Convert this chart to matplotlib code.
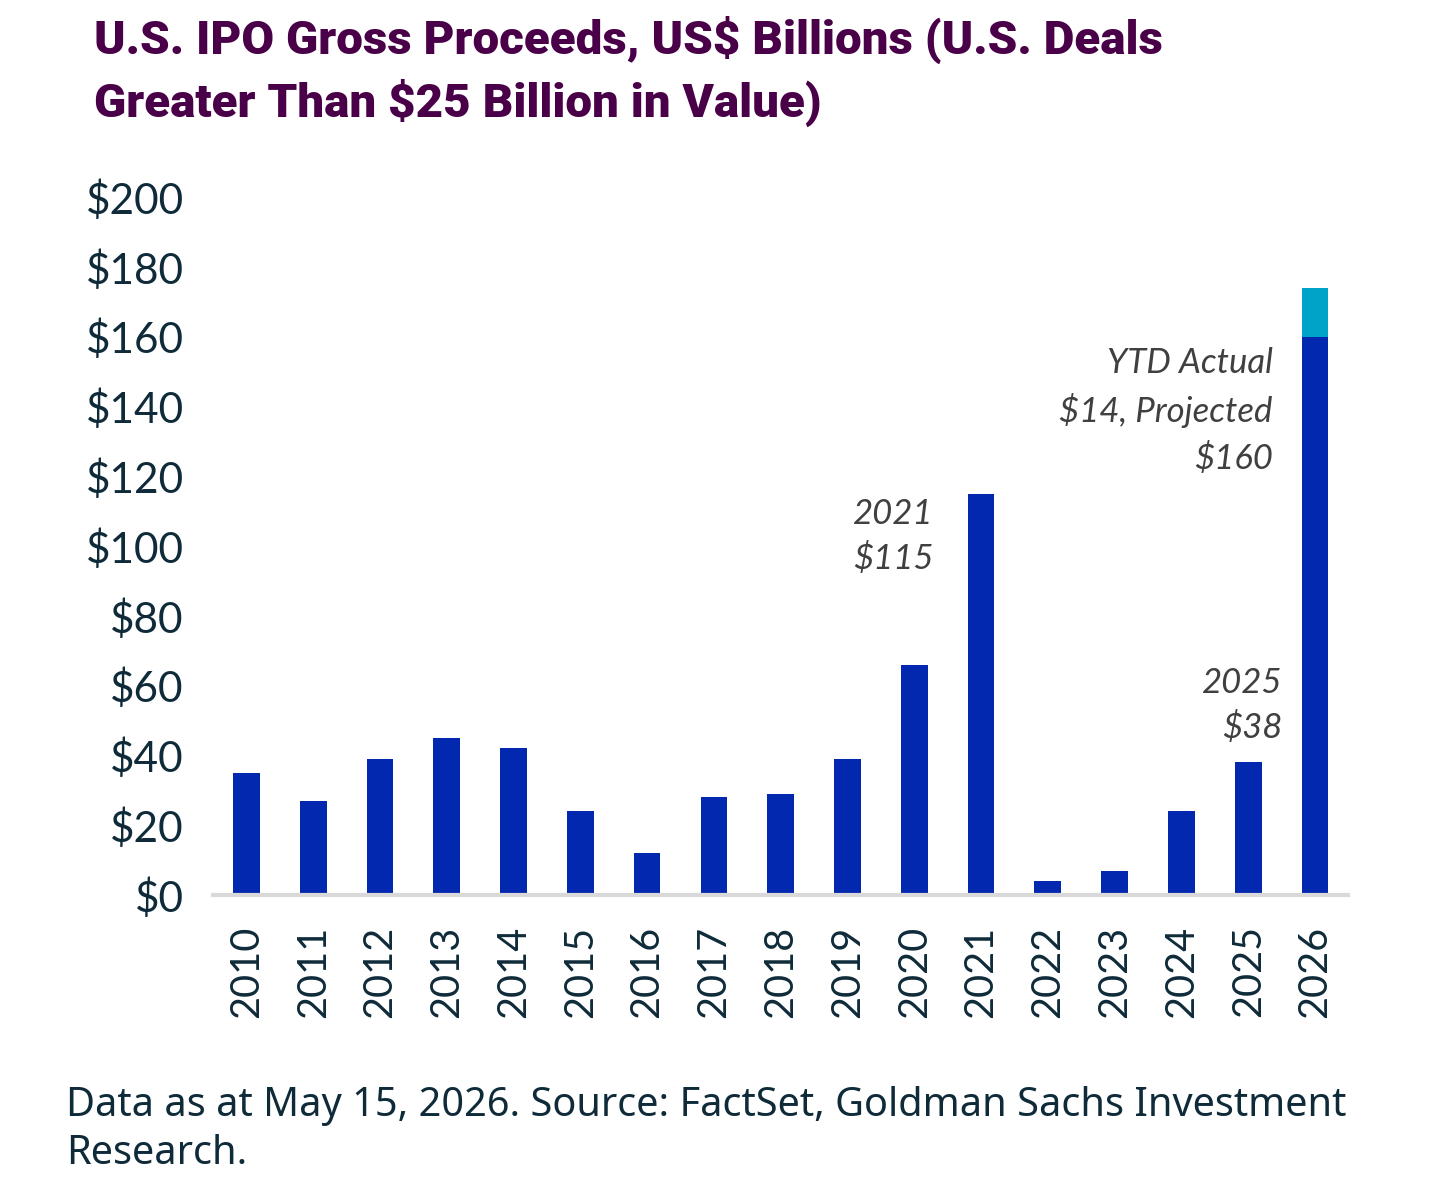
import numpy as np
import matplotlib
matplotlib.use("Agg")
import matplotlib.pyplot as plt

years = [str(y) for y in range(2010, 2027)]
proceeds = [35, 27, 39, 45, 42, 24, 12, 28, 29, 39, 66, 115, 4, 7, 24, 38, 160]
# extra YTD actual on top of the 2026 projection
ytd_extra = [0] * 16 + [14]

y_ticks = list(range(0, 201, 20))
y_tick_labels = ["$" + str(v) for v in y_ticks]

title = "U.S. IPO Gross Proceeds, US$ Billions (U.S. Deals\nGreater Than $25 Billion in Value)"
footer = ("Data as at May 15, 2026. Source: FactSet, Goldman Sachs Investment\n"
          "Research.")

dark_blue = "#0328B0"
light_blue = "#00A3C8"
text_dark = "#0F2B3A"
note_grey = "#404040"
purple = "#4A0049"

plt.rcParams['font.family'] = ['Lato', 'DejaVu Sans']

fig = plt.figure(figsize=(14.39, 11.83), dpi=100)
ax = fig.add_axes([0.148, 0.2435, 0.789, 0.59])

x = np.arange(len(years))
ax.bar(x, proceeds, width=0.4, color=dark_blue, zorder=2)
ax.bar(x, ytd_extra, width=0.4, bottom=proceeds, color=light_blue, zorder=2)

ax.set_xlim(-0.5, len(years) - 0.5)
ax.set_ylim(0, 200)
ax.set_yticks(y_ticks)
ax.set_yticklabels(y_tick_labels, fontsize=30.5, color=text_dark)
ax.set_xticks(x)
ax.set_xticklabels(years, rotation=90, fontsize=28.5, color=text_dark)
ax.tick_params(axis='both', length=0)
ax.tick_params(axis='y', pad=21)
ax.tick_params(axis='x', pad=22)

for s in ['top', 'right', 'left']:
    ax.spines[s].set_visible(False)
ax.spines['bottom'].set_color('#d9d9d9')
ax.spines['bottom'].set_linewidth(3)

# annotations
ax.text(9.09, 102.6, "2021\n$115", fontsize=25, style='italic', color=note_grey,
        ha='left', va='center', linespacing=1.45)
ax.text(15.52, 54.4, "2025\n$38", fontsize=25, style='italic', color=note_grey,
        ha='right', va='center', linespacing=1.45, multialignment='right')
ax.text(15.37, 138.7, "YTD Actual\n$14, Projected\n$160", fontsize=25, style='italic',
        color=note_grey, ha='right', va='center', linespacing=1.5,
        multialignment='right')

fig.text(0.065, 0.987, title, fontsize=34.2, fontweight='black', color=purple,
         ha='left', va='top', family=['Roboto', 'DejaVu Sans'], linespacing=1.39)
fig.text(0.046, 0.008, footer, fontsize=28.6, color=text_dark, ha='left', va='bottom',
         linespacing=1.25, family=['Noto Sans', 'DejaVu Sans'])

fig.savefig("out.png", dpi=100)
